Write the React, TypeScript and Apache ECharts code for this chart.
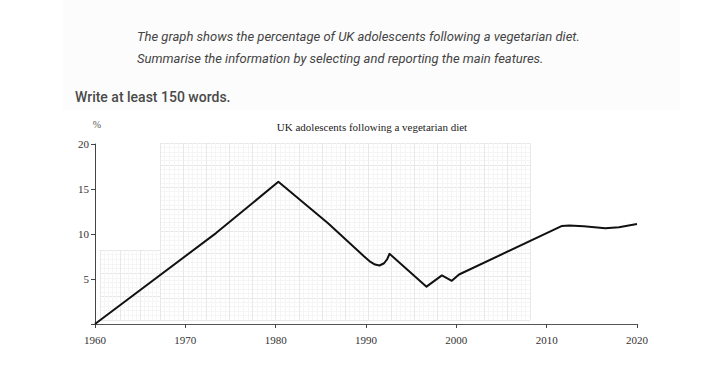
import React, { useEffect, useRef } from "react";
import * as echarts from "echarts";

const years = [1960, 1973.4, 1980.3, 1985.8, 1989.8, 1990.5, 1991.0, 1991.5, 1992.0, 1992.35, 1992.6, 1996.7, 1998.4, 1999.5, 2000.3, 2011.7, 2012.5, 2014.1, 2016.5, 2018, 2020];
const values = [0, 10.1, 15.8, 11.2, 7.5, 6.9, 6.6, 6.5, 6.75, 7.2, 7.8, 4.15, 5.4, 4.8, 5.5, 10.9, 10.95, 10.85, 10.65, 10.75, 11.1];
const xTicks = [1960, 1970, 1980, 1990, 2000, 2010, 2020];
const yTicks = [5, 10, 15, 20];

const intro1 = "The graph shows the percentage of UK adolescents following a vegetarian diet.";
const intro2 = "Summarise the information by selecting and reporting the main features.";
const task = "Write at least 150 words.";
const chartTitle = "UK adolescents following a vegetarian diet";

const SERIF = "'Liberation Serif', 'DejaVu Serif', serif";

function paperAxes(gi: number, xmax: number, ymax: number) {
  const split = { show: true, lineStyle: { color: "#e8e8e8", width: 1 } };
  const minor = { show: true, lineStyle: { color: "#f5f5f5", width: 1 } };
  return {
    x: {
      type: "value", gridIndex: gi, min: 0, max: xmax, interval: 1,
      axisLine: { show: false }, axisTick: { show: false }, axisLabel: { show: false },
      splitLine: split, minorTick: { show: false, splitNumber: 5 }, minorSplitLine: minor,
    },
    y: {
      type: "value", gridIndex: gi, min: 0, max: ymax, interval: 1,
      axisLine: { show: false }, axisTick: { show: false }, axisLabel: { show: false },
      splitLine: split, minorTick: { show: false, splitNumber: 5 }, minorSplitLine: minor,
    },
  };
}

export default function App() {
  const ref = useRef<HTMLDivElement>(null);
  useEffect(() => {
    document.body.style.margin = "0";
    const chart = echarts.init(ref.current!, null, { renderer: "svg" });
    const p1 = paperAxes(1, 16, 8);
    const p2 = paperAxes(2, 3, 3);
    chart.setOption({
      animation: false,
      backgroundColor: "#ffffff",
      graphic: [
        { type: "rect", shape: { x: 63, y: 0, width: 617, height: 110 }, style: { fill: "#fcfcfc" }, z: -10 },
        { type: "text", x: 137, y: 36, style: { text: intro1, font: "italic 13px Roboto", fill: "#444", textVerticalAlign: "middle" } },
        { type: "text", x: 137, y: 58, style: { text: intro2, font: "italic 13px Roboto", fill: "#444", textVerticalAlign: "middle" } },
        { type: "text", x: 75, y: 97, style: { text: task, font: "500 14px Roboto", fill: "#4a4a4a", textVerticalAlign: "middle" } },
        { type: "text", x: 372, y: 127, style: { text: chartTitle, font: "11px " + SERIF, fill: "#222", textAlign: "center", textVerticalAlign: "middle" } },
        { type: "text", x: 97, y: 124, style: { text: "%", font: "10px " + SERIF, fill: "#555", textAlign: "center", textVerticalAlign: "middle" } },
      ],
      grid: [
        { left: 95, right: 68, top: 144, bottom: 59 },
        { left: 160, right: 175, top: 143, bottom: 63 },
        { left: 100, width: 60, top: 250, bottom: 63 },
      ],
      xAxis: [
        {
          type: "value", gridIndex: 0, min: 1960, max: 2020, interval: 10,
          axisLine: { show: true, lineStyle: { color: "#555", width: 1 } },
          axisTick: { show: true, length: 4, lineStyle: { color: "#444" } },
          axisLabel: { fontFamily: SERIF, fontSize: 11, color: "#333", margin: 10, formatter: (v: number) => (xTicks.includes(v) ? String(v) : "") },
          splitLine: { show: false },
        },
        p1.x, p2.x,
      ],
      yAxis: [
        {
          type: "value", gridIndex: 0, min: 0, max: 20, interval: 5,
          axisLine: { show: true, lineStyle: { color: "#444", width: 1 } },
          axisTick: { show: true, length: 4, lineStyle: { color: "#444" } },
          axisLabel: { fontFamily: SERIF, fontSize: 11, color: "#333", margin: 6, formatter: (v: number) => (yTicks.includes(v) ? String(v) : "") },
          splitLine: { show: false },
        },
        p1.y, p2.y,
      ],
      series: [
        {
          type: "line", xAxisIndex: 0, yAxisIndex: 0, z: 5,
          data: years.map((y, i) => [y, values[i]]),
          symbol: "none", smooth: false,
          lineStyle: { color: "#111", width: 2, join: "round" },
        },
      ],
    });
    return () => chart.dispose();
  }, []);
  return <div ref={ref} style={{ position: "fixed", left: 0, top: 0, width: 705, height: 383 }} />;
}
